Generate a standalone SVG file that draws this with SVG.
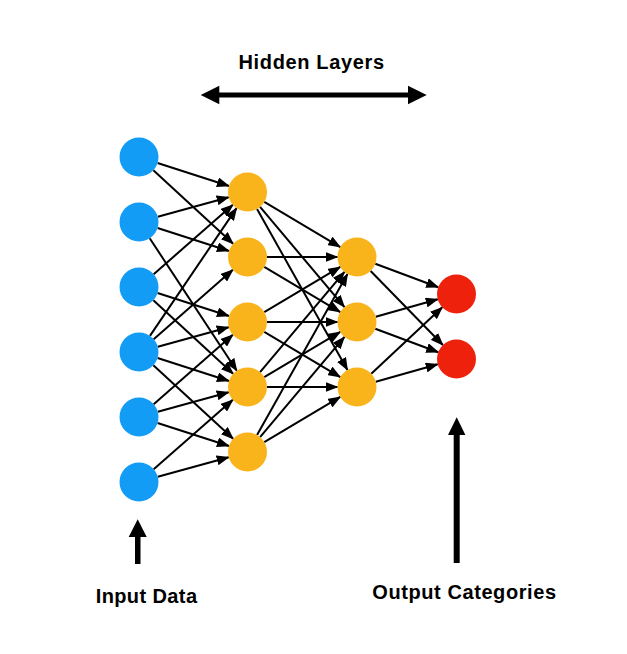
<svg xmlns="http://www.w3.org/2000/svg" width="627" height="654" viewBox="0 0 627 654">
<style>
.lbl{font-family:"Liberation Sans",Arial,sans-serif;font-weight:bold;font-size:20px;fill:#000}
.e line{stroke:#000;stroke-width:2;marker-end:url(#ah)}
.in{fill:#139CF5}
.hd{fill:#FAB41B}
.out{fill:#EE220C}
.big{fill:#000}
</style>
<defs>
<marker id="ah" markerUnits="userSpaceOnUse" markerWidth="13" markerHeight="10" viewBox="0 0 13 10" refX="12" refY="5" orient="auto">
<path d="M0,0 L13,5 L0,10 z" fill="#000"/>
</marker>
</defs>
<rect width="627" height="654" fill="#fff"/>
<g id="connectors" class="e">
<line x1="157.56" y1="162.99" x2="228.94" y2="186.01"/>
<line x1="153.34" y1="170.22" x2="233.16" y2="243.78"/>
<line x1="157.8" y1="216.8" x2="228.7" y2="197.2"/>
<line x1="157.56" y1="227.99" x2="228.94" y2="251.01"/>
<line x1="149.71" y1="238.29" x2="236.79" y2="370.71"/>
<line x1="153.67" y1="274.15" x2="232.83" y2="204.85"/>
<line x1="157.56" y1="292.99" x2="228.94" y2="316.01"/>
<line x1="153.34" y1="300.22" x2="233.16" y2="373.78"/>
<line x1="149.94" y1="335.86" x2="236.56" y2="208.14"/>
<line x1="153.67" y1="339.15" x2="232.83" y2="269.85"/>
<line x1="157.8" y1="346.8" x2="228.7" y2="327.2"/>
<line x1="157.56" y1="357.99" x2="228.94" y2="381.01"/>
<line x1="153.34" y1="365.22" x2="233.16" y2="438.78"/>
<line x1="153.67" y1="404.15" x2="232.83" y2="334.85"/>
<line x1="157.8" y1="411.8" x2="228.7" y2="392.2"/>
<line x1="157.56" y1="422.99" x2="228.94" y2="446.01"/>
<line x1="153.67" y1="469.15" x2="232.83" y2="399.85"/>
<line x1="157.8" y1="476.8" x2="228.7" y2="457.2"/>
<line x1="264.27" y1="201.95" x2="340.23" y2="247.05"/>
<line x1="260.06" y1="206.91" x2="344.44" y2="307.09"/>
<line x1="257.05" y1="209" x2="347.45" y2="370"/>
<line x1="267" y1="257" x2="337.5" y2="257"/>
<line x1="264.27" y1="266.95" x2="340.23" y2="312.05"/>
<line x1="264.27" y1="312.05" x2="340.23" y2="266.95"/>
<line x1="267" y1="322" x2="337.5" y2="322"/>
<line x1="264.27" y1="331.95" x2="340.23" y2="377.05"/>
<line x1="260.06" y1="372.09" x2="344.44" y2="271.91"/>
<line x1="264.27" y1="377.05" x2="340.23" y2="331.95"/>
<line x1="267" y1="387" x2="337.5" y2="387"/>
<line x1="257.05" y1="435" x2="347.45" y2="274"/>
<line x1="260.06" y1="437.09" x2="344.44" y2="336.91"/>
<line x1="264.27" y1="442.05" x2="340.23" y2="396.95"/>
<line x1="375.28" y1="263.8" x2="438.22" y2="287.2"/>
<line x1="370.62" y1="270.96" x2="442.88" y2="345.04"/>
<line x1="375.77" y1="316.72" x2="437.73" y2="299.28"/>
<line x1="375.28" y1="328.8" x2="438.22" y2="352.2"/>
<line x1="371.25" y1="373.68" x2="442.25" y2="307.32"/>
<line x1="375.77" y1="381.72" x2="437.73" y2="364.28"/>
</g>
<g id="input-layer">
<circle id="i1" class="in" cx="139" cy="157" r="19.5"/>
<circle id="i2" class="in" cx="139" cy="222" r="19.5"/>
<circle id="i3" class="in" cx="139" cy="287" r="19.5"/>
<circle id="i4" class="in" cx="139" cy="352" r="19.5"/>
<circle id="i5" class="in" cx="139" cy="417" r="19.5"/>
<circle id="i6" class="in" cx="139" cy="482" r="19.5"/>
</g>
<g id="hidden-layer-1">
<circle id="h1" class="hd" cx="247.5" cy="192" r="19.5"/>
<circle id="h2" class="hd" cx="247.5" cy="257" r="19.5"/>
<circle id="h3" class="hd" cx="247.5" cy="322" r="19.5"/>
<circle id="h4" class="hd" cx="247.5" cy="387" r="19.5"/>
<circle id="h5" class="hd" cx="247.5" cy="452" r="19.5"/>
</g>
<g id="hidden-layer-2">
<circle id="j1" class="hd" cx="357" cy="257" r="19.5"/>
<circle id="j2" class="hd" cx="357" cy="322" r="19.5"/>
<circle id="j3" class="hd" cx="357" cy="387" r="19.5"/>
</g>
<g id="output-layer">
<circle id="o1" class="out" cx="456.5" cy="294" r="19.5"/>
<circle id="o2" class="out" cx="456.5" cy="359" r="19.5"/>
</g>
<g id="hidden-label">
<text class="lbl" x="238.5" y="69" textLength="145.5" lengthAdjust="spacing">Hidden Layers</text>
<rect class="big" x="218" y="92.5" width="191" height="5"/>
<polygon class="big" points="200.7,95 219.3,85.8 219.3,104.2"/>
<polygon class="big" points="426.7,95 408,85.8 408,104.2"/>
</g>
<g id="input-label">
<rect class="big" x="135" y="535" width="5.5" height="29"/>
<polygon class="big" points="128.7,537 137.7,519.3 146.7,537"/>
<text class="lbl" x="95.7" y="602.5" textLength="101.3" lengthAdjust="spacing">Input Data</text>
</g>
<g id="output-label">
<rect class="big" x="453.7" y="433" width="6" height="130"/>
<polygon class="big" points="448,435 456.7,417.3 465.4,435"/>
<text class="lbl" x="372.3" y="599" textLength="183.7" lengthAdjust="spacing">Output Categories</text>
</g>
</svg>
